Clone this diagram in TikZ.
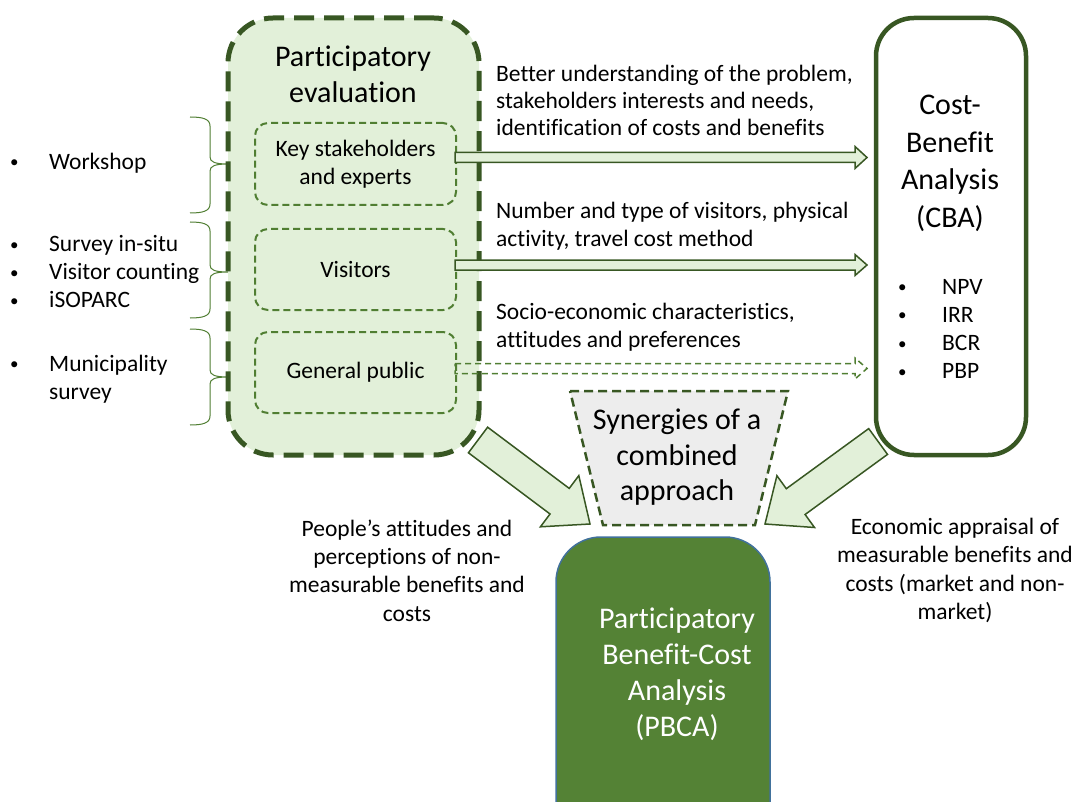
\documentclass[tikz,border=0pt]{standalone}
\usepackage{fontspec}
\setmainfont{Carlito}[Ligatures={NoCommon,NoContextual}]
\usetikzlibrary{calc}
\definecolor{dkgreen}{HTML}{385723}
\definecolor{midgreen}{HTML}{507E32}
\definecolor{ltgreen}{HTML}{E2F0D9}
\definecolor{pbcagreen}{HTML}{548235}
\definecolor{synfill}{HTML}{EDEDED}
\definecolor{pbcaborder}{HTML}{41719C}
\newcommand{\mybrace}[3]{\draw[bracestyle] (190,#1) .. controls (203,#1) and (210,#1+2) .. (210,#1+9) -- (210,#2-7) .. controls (210,#2-2) and (215,#2) .. (228,#2) .. controls (215,#2) and (210,#2+2) .. (210,#2+7) -- (210,#3-9) .. controls (210,#3-2) and (203,#3) .. (190,#3);}
\newcommand{\bul}[1]{\makebox[#1][l]{\raisebox{1.5pt}{\fontsize{17}{17}\selectfont •}}}
\begin{document}
\begin{tikzpicture}[x=1pt,y=-1pt,
  sm/.style={font=\fontsize{23.5}{28}\selectfont, inner sep=0pt},
  lg/.style={font=\fontsize{30}{36}\selectfont, inner sep=0pt, align=center},
  outerbox/.style={draw=dkgreen, line width=5pt, dash pattern=on 20pt off 10pt, fill=ltgreen, rounded corners=45pt},
  innerbox/.style={draw=midgreen, line width=2pt, dash pattern=on 7pt off 4pt, rounded corners=13pt},
  harrow/.style={draw=dkgreen, line width=1.5pt, fill=ltgreen, line join=miter},
  darrow/.style={draw=midgreen, line width=1.5pt, dash pattern=on 6pt off 4pt},
  bigarrow/.style={draw=dkgreen, line width=1.5pt, fill=ltgreen, line join=miter},
  bracestyle/.style={draw=midgreen, line width=1pt}]
\clip (0,0) rectangle (1075,802);

% big diagonal arrows
\coordinate (ltip) at (590,524);
\coordinate (rtip) at (765,524);
\draw[bigarrow] (468.4,452.8) -- (550,514) -- (540.4,526.8) -- (ltip) -- (578.8,475.6) -- (569.2,488.4) -- (487.6,427.2) -- cycle;
\draw[bigarrow] (887.5,454.4) -- (805.1,514.5) -- (814.5,527.5) -- (rtip) -- (776.9,475.7) -- (786.3,488.7) -- (868.7,428.6) -- cycle;

% braces
\mybrace{117}{164}{213}
\mybrace{222}{272}{318}
\mybrace{329}{377}{425}

% left lists
\node[sm, align=left, anchor=west] (ws) at (10,163) {\bul{39pt}Workshop};
\node[sm, align=left, anchor=west] (vis) at (10,271.5) {\bul{39pt}Survey in-situ\\\bul{39pt}Visitor counting\\\bul{39pt}iSOPARC};
\node[sm, align=left, anchor=west] (mun) at (10,379) {\bul{39pt}Municipality\\\makebox[39pt][l]{}survey};

% participatory evaluation box
\node[outerbox, minimum width=251pt, minimum height=437pt] (pe) at (353.5,236.5) {};
\node[lg] (petitle) at (353,74.5) {Participatory\\evaluation};
\node[innerbox, sm, align=center, minimum width=201pt, minimum height=82pt] (key) at (355.5,164) {Key stakeholders\\and experts};
\node[innerbox, sm, align=center, minimum width=201pt, minimum height=81pt] (visitors) at (355.5,269.5) {Visitors};
\node[innerbox, sm, align=center, minimum width=201pt, minimum height=81pt] (gp) at (355.5,372.5) {General public};

% CBA box
\node[draw=dkgreen, line width=4.5pt, fill=white, rounded corners=38pt, minimum width=150pt, minimum height=437pt] (cba) at (951,236.5) {};
\node[lg, font=\fontsize{30}{37.5}\selectfont] (cbatitle) at (950,163.5) {Cost-\\Benefit\\Analysis\\(CBA)};
\node[sm, align=left, anchor=west, font=\fontsize{23.5}{28.3}\selectfont] (cbalist) at (898,329) {\bul{44pt}NPV\\\bul{44pt}IRR\\\bul{44pt}BCR\\\bul{44pt}PBP};

% horizontal arrows
\draw[harrow] (455,152.5) -- (855,152.5) -- (855,146.5) -- (867,157.5) -- (855,168.5) -- (855,162.5) -- (455,162.5) -- cycle;
\draw[harrow] (455,260) -- (855,260) -- (855,254.5) -- (867,265) -- (855,275.5) -- (855,270) -- (455,270) -- cycle;
\draw[darrow] (455,363.5) -- (855,363.5) -- (855,358) -- (867,368.5) -- (855,379) -- (855,373.5) -- (455,373.5) -- cycle;

% arrow texts
\node[sm, align=left, anchor=west, font=\fontsize{23.5}{27}\selectfont] (t1) at (496,100) {Better understanding of the problem,\\stakeholders interests and needs,\\identification of costs and benefits};
\node[sm, align=left, anchor=west] (t2) at (496,226) {Number and type of visitors, physical\\activity, travel cost method};
\node[sm, align=left, anchor=west] (t3) at (496,327.5) {Socio-economic characteristics,\\attitudes and preferences};

% synergies
\draw[draw=dkgreen, line width=2.5pt, dash pattern=on 9pt off 5pt, fill=synfill] (570,391) -- (788,391) -- (755,525) -- (603,525) -- cycle;
\node[lg, font=\fontsize{30}{35.5}\selectfont] (syn) at (677,457.5) {Synergies of a\\combined\\approach};

% PBCA
\draw[fill=pbcagreen, draw=pbcaborder, line width=1.5pt, rounded corners=45pt] (556,537) rectangle (770,850);
\node[lg, text=white] (pbca) at (677,674.5) {Participatory\\Benefit-Cost\\Analysis\\(PBCA)};

% bottom texts
\node[sm, align=center, font=\fontsize{23.5}{28.3}\selectfont] (bl) at (407,570.5) {People’s attitudes and\\perceptions of non-\\measurable benefits and\\costs};
\node[sm, align=center, font=\fontsize{23.5}{28.3}\selectfont] (br) at (955,570.5) {Economic appraisal of\\measurable benefits and\\costs (market and non-\\market)};
\end{tikzpicture}
\end{document}
